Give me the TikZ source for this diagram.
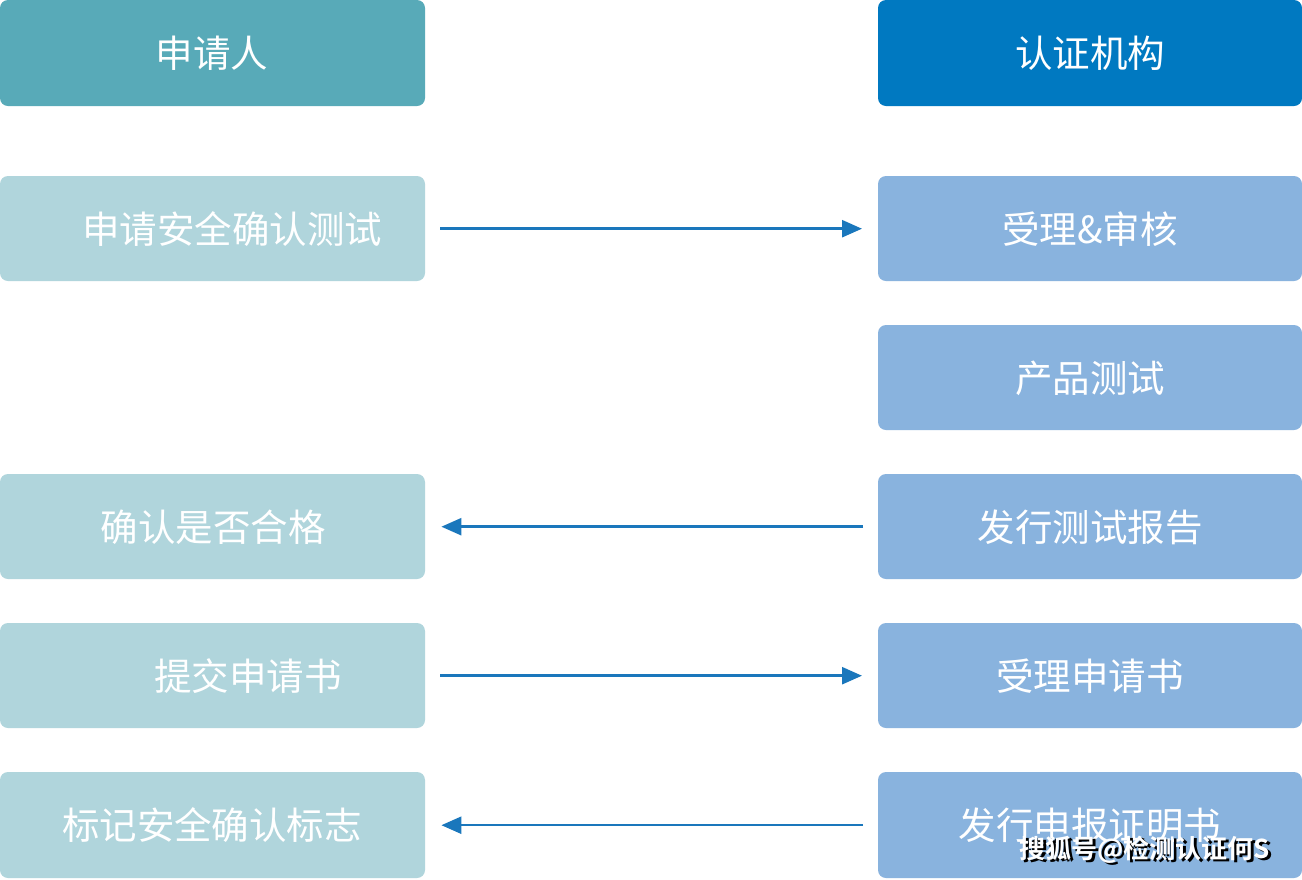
\documentclass[tikz,border=0pt]{standalone}
\usepackage{fontspec}
\newfontfamily\cjk{Noto Sans CJK SC}
\newfontfamily\cjkb{Noto Sans CJK SC Bold}
\usetikzlibrary{arrows.meta}
\definecolor{hdrL}{HTML}{58AAB8}
\definecolor{hdrR}{HTML}{0079C1}
\definecolor{boxL}{HTML}{B0D5DC}
\definecolor{boxR}{HTML}{89B3DE}
\definecolor{arr}{HTML}{1A77BC}
\tikzset{
  box/.style={rounded corners=8pt, inner sep=0pt},
  anch/.style={minimum width=#1, anchor=north west, inner sep=0pt},
  lbl/.style={text=white, font=\cjk\fontsize{37.5}{40}\selectfont, inner sep=0pt, anchor=center},
  wmk/.style={font=\cjkb\fontsize{26}{28}\selectfont, inner sep=0pt},
  conn/.style={draw=arr, line width=2.5pt, -{Triangle[length=20pt,width=17pt]}, shorten <=15pt, shorten >=16pt},
}
\begin{document}
\begin{tikzpicture}[x=1pt,y=-1pt]
\useasboundingbox (0,0) rectangle (1302,879);
\fill[white] (0,0) rectangle (1302,879);
% left column
\fill[hdrL, box] (0,0) rectangle (425,106);
\node[anch=425pt, minimum height=106pt] (L0) at (0,0) {};
\fill[boxL, box] (0,176) rectangle (425,281);
\node[anch=425pt, minimum height=105pt] (L1) at (0,176) {};
\fill[boxL, box] (0,474) rectangle (425,579);
\node[anch=425pt, minimum height=105pt] (L3) at (0,474) {};
\fill[boxL, box] (0,623) rectangle (425,728);
\node[anch=425pt, minimum height=105pt] (L4) at (0,623) {};
\fill[boxL, box] (0,772) rectangle (425,878);
\node[anch=425pt, minimum height=106pt] (L5) at (0,772) {};
% right column
\fill[hdrR, box] (878,0) rectangle (1302,106);
\node[anch=424pt, minimum height=106pt] (R0) at (878,0) {};
\fill[boxR, box] (878,176) rectangle (1302,281);
\node[anch=424pt, minimum height=105pt] (R1) at (878,176) {};
\fill[boxR, box] (878,325) rectangle (1302,430);
\node[anch=424pt, minimum height=105pt] (R2) at (878,325) {};
\fill[boxR, box] (878,474) rectangle (1302,579);
\node[anch=424pt, minimum height=105pt] (R3) at (878,474) {};
\fill[boxR, box] (878,623) rectangle (1302,728);
\node[anch=424pt, minimum height=105pt] (R4) at (878,623) {};
\fill[boxR, box] (878,772) rectangle (1302,878);
\node[anch=424pt, minimum height=106pt] (R5) at (878,772) {};
% labels
\node[lbl] (t0) at (212,53) {申请人};
\node[lbl] (t1) at (232,229) {申请安全确认测试};
\node[lbl] (t3) at (213,527) {确认是否合格};
\node[lbl] (t4) at (248,676) {提交申请书};
\node[lbl] (t5) at (212,825) {标记安全确认标志};
\node[lbl] (u0) at (1090,53) {认证机构};
\node[lbl] (u1) at (1090,229) {受理\&审核};
\node[lbl] (u2) at (1090,378) {产品测试};
\node[lbl] (u3) at (1090,527) {发行测试报告};
\node[lbl] (u4) at (1090,676) {受理申请书};
\node[lbl] (u5) at (1090,825) {发行申报证明书};
% connectors
\draw[conn] (L1.east) -- (R1.west);
\draw[conn] (R3.west) -- (L3.east);
\draw[conn] (L4.east) -- (R4.west);
\draw[conn] (R5.west) -- (L5.east);
% watermark
\node[wmk, text=black] (wms) at (1147.5,852) {搜狐号@检测认证何S};
\node[wmk, text=white] (wm) at (1145,850) {搜狐号@检测认证何S};
\end{tikzpicture}
\end{document}
